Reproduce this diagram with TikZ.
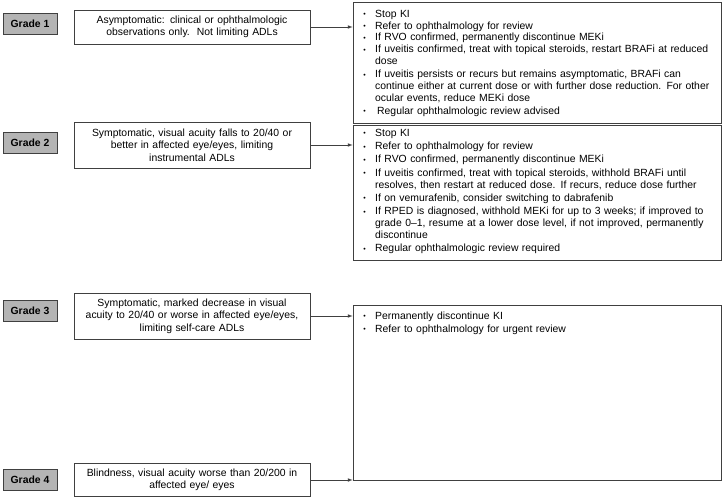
\documentclass[tikz,border=0pt]{standalone}
\usepackage{fontspec}
\setmainfont{Liberation Sans}
\usepackage{tikz}
\usetikzlibrary{positioning}

\definecolor{gradegray}{HTML}{B4B4B4}
\definecolor{edgegray}{HTML}{404040}

% bullet list used in the action boxes
\newenvironment{kilist}[1]{%
  \begin{list}{\raisebox{0.5pt}{\scriptsize\textbullet}}{%
    \setlength{\leftmargin}{15pt}\setlength{\labelwidth}{5pt}%
    \setlength{\labelsep}{9.5pt}\setlength{\itemsep}{#1}%
    \setlength{\parsep}{0pt}\setlength{\topsep}{0pt}%
    \setlength{\partopsep}{0pt}\setlength{\parskip}{0pt}}}%
  {\end{list}}

\tikzset{
  grade/.style={draw=edgegray, fill=gradegray, line width=0.8pt,
    minimum width=54pt, minimum height=21pt, inner sep=0pt,
    font=\fontsize{10.4}{11}\selectfont\bfseries},
  desc/.style={draw=edgegray, line width=0.7pt, minimum width=236pt,
    text width=234pt, align=center, inner sep=0pt,
    font=\fontsize{10.4}{12.6}\selectfont},
  frame/.style={draw=edgegray, line width=0.7pt, minimum width=368pt, inner sep=0pt},
  bullets/.style={anchor=north west, inner sep=0pt, text width=358pt,
    align=left, font=\fontsize{10.4}{11.7}\selectfont},
  link/.style={draw=edgegray, line width=0.7pt, -latex},
}

\begin{document}
\begin{tikzpicture}[x=1pt, y=-1pt]
  \useasboundingbox (0,0) rectangle (724,501);

  % grades
  \node[grade] (g1) at (30,24) {Grade 1};
  \node[grade] (g2) at (30,143) {Grade 2};
  \node[grade] (g3) at (30,311) {Grade 3};
  \node[grade] (g4) at (30,480) {Grade 4};

  % descriptions
  \node[desc, minimum height=34pt] (d1) at (192,27) {Asymptomatic: clinical or ophthalmologic\\observations only.\ \ Not limiting ADLs};
  \node[desc, minimum height=46pt] (d2) at (192,145) {Symptomatic, visual acuity falls to 20/40 or\\better in affected eye/eyes, limiting\\instrumental ADLs};
  \node[desc, minimum height=46pt] (d3) at (192,316) {Symptomatic, marked decrease in visual\\acuity to 20/40 or worse in affected eye/eyes,\\limiting self-care ADLs};
  \node[desc, minimum height=33pt] (d4) at (192,480) {Blindness, visual acuity worse than 20/200 in\\affected eye/ eyes};

  % action boxes
  \node[frame, minimum height=121pt] (r1) at (537,62.5) {};
  \node[frame, minimum height=135pt] (r2) at (537,192.5) {};
  \node[frame, minimum height=175pt] (r3) at (537,392.5) {};

  \node[bullets] (l1) at (360,5.5) {\begin{kilist}{0pt}
    \item Stop KI
    \item Refer to ophthalmology for review
    \item If RVO confirmed, permanently discontinue MEKi
    \item If uveitis confirmed, treat with topical steroids, restart BRAFi at reduced\\dose\vspace{2pt}
    \item If uveitis persists or recurs but remains asymptomatic, BRAFi can\\continue either at current dose or with further dose reduction. For other\\ocular events, reduce MEKi dose\vspace{1pt}
    \item \hspace{2pt}Regular ophthalmologic review advised
  \end{kilist}};
  \node[bullets] (l2) at (360,124.2) {\begin{kilist}{1.7pt}
    \item Stop KI
    \item Refer to ophthalmology for review
    \item If RVO confirmed, permanently discontinue MEKi
    \item If uveitis confirmed, treat with topical steroids, withhold BRAFi until\\resolves, then restart at reduced dose. If recurs, reduce dose further
    \item If on vemurafenib, consider switching to dabrafenib
    \item If RPED is diagnosed, withhold MEKi for up to 3 weeks; if improved to\\grade 0--1, resume at a lower dose level, if not improved, permanently\\discontinue
    \item Regular ophthalmologic review required
  \end{kilist}};
  \node[bullets] (l3) at (360,307.2) {\begin{kilist}{1.3pt}
    \item Permanently discontinue KI
    \item Refer to ophthalmology for urgent review
  \end{kilist}};

  % arrows
  \draw[link] (d1.east) -- (d1.east -| r1.west);
  \draw[link] (d2.east) -- (d2.east -| r2.west);
  \draw[link] (d3.east) -- (d3.east -| r3.west);
  \draw[link] (d4.east) -- (d4.east -| r3.west);
\end{tikzpicture}
\end{document}
